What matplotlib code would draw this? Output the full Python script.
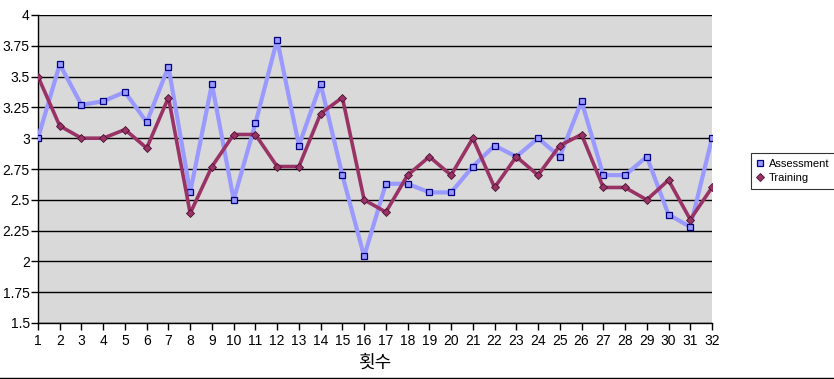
import matplotlib
matplotlib.use("Agg")
import matplotlib.pyplot as plt
from matplotlib.lines import Line2D

plt.rcParams['font.family'] = ['Liberation Sans', 'Noto Sans CJK KR', 'DejaVu Sans']

sessions = list(range(1, 33))
assessment = [3.00, 3.60, 3.27, 3.30, 3.375, 3.13, 3.58, 2.56, 3.44, 2.50,
              3.12, 3.80, 2.94, 3.44, 2.70, 2.04, 2.63, 2.63, 2.56, 2.56,
              2.77, 2.94, 2.85, 3.00, 2.85, 3.30, 2.70, 2.70, 2.85, 2.38,
              2.28, 3.00]
training = [3.50, 3.10, 3.00, 3.00, 3.07, 2.92, 3.33, 2.39, 2.77, 3.03,
            3.03, 2.77, 2.77, 3.20, 3.33, 2.50, 2.40, 2.70, 2.85, 2.70,
            3.00, 2.60, 2.85, 2.70, 2.94, 3.03, 2.60, 2.60, 2.50, 2.66,
            2.34, 2.60]
yticks = [1.5, 1.75, 2, 2.25, 2.5, 2.75, 3, 3.25, 3.5, 3.75, 4]
ytick_labels = ['1.5', '1.75', '2', '2.25', '2.5', '2.75', '3', '3.25', '3.5', '3.75', '4']
xlabel = '횟수'

fig = plt.figure(figsize=(8.34, 3.79), dpi=100)
ax = fig.add_axes([38/834, 1-323/379, (712-38)/834, (323-15)/379])
ax.set_facecolor('#d9d9d9')

ax.plot(sessions, assessment, color='#9999ff', lw=3.0, marker='s', ms=4.8,
        mfc='#9999ff', mec='#000080', mew=0.9, label='Assessment', zorder=3)
ax.plot(sessions, training, color='#993366', lw=2.6, marker='D', ms=3.6,
        mfc='#993366', mec='#4a1030', mew=0.6, label='Training', zorder=4)

ax.set_xlim(1, 32)
ax.set_ylim(1.5, 4)
ax.set_yticks(yticks)
ax.set_yticklabels(ytick_labels)
ax.set_xticks(sessions)
ax.set_xticklabels([str(s) for s in sessions])
ax.grid(axis='y', color='black', lw=1.0)
ax.set_axisbelow(True)
for s in ['top', 'right']:
    ax.spines[s].set_visible(False)
for s in ['left', 'bottom']:
    ax.spines[s].set_color('black')
    ax.spines[s].set_linewidth(1.0)
ax.tick_params(axis='both', direction='out', length=5, width=1, labelsize=10, colors='black')
ax.tick_params(axis='y', pad=1)
ax.tick_params(axis='x', pad=3)
ax.set_xlabel(xlabel, fontsize=13, labelpad=4, family=['Noto Sans CJK KR', 'DejaVu Sans'])

leg = ax.legend(loc='center left', bbox_to_anchor=(745/834, 1-171/379), bbox_transform=fig.transFigure,
                fontsize=8, frameon=True, fancybox=False, borderpad=0.55, handlelength=0.6,
                handletextpad=0.5, labelspacing=0.35, edgecolor='black')
leg.get_frame().set_linewidth(0.8)
for h in leg.legend_handles:
    h.set_linestyle('none')

fig.add_artist(Line2D([0, 1], [1-377.5/379, 1-377.5/379], color='black', lw=1.0, transform=fig.transFigure))

fig.savefig('out.png', dpi=100, facecolor='white')
